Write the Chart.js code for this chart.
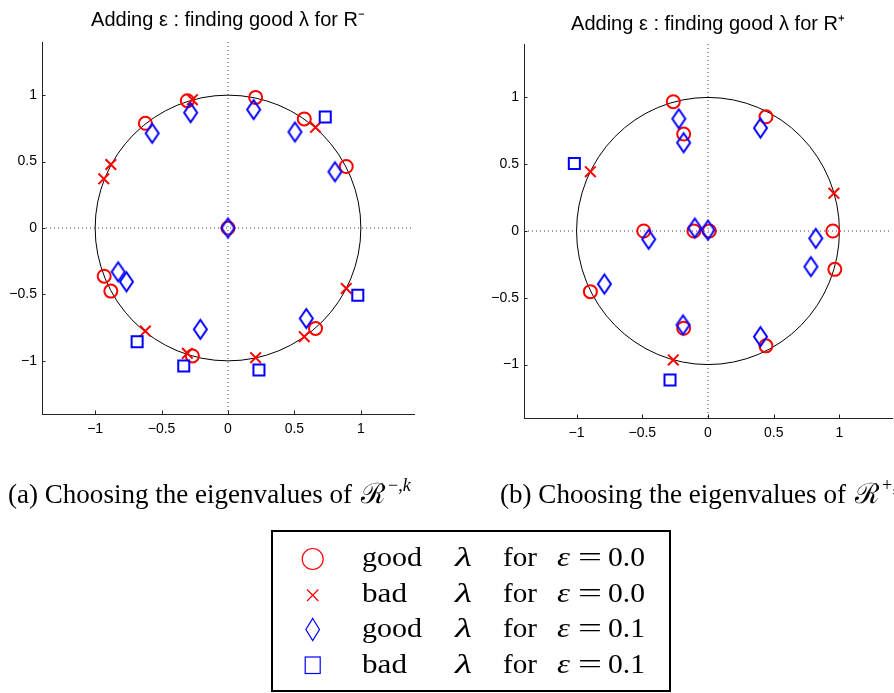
<!DOCTYPE html>
<html>
<head>
<meta charset="utf-8">
<script src="https://cdn.jsdelivr.net/npm/chart.js@4/dist/chart.umd.min.js"></script>
<style>
  html, body { margin: 0; padding: 0; background: #fff; }
  body { width: 894px; height: 693px; position: relative; overflow: hidden; }
  canvas { position: absolute; }
  #overlay { position: absolute; left: 0; top: 0; pointer-events: none; }
  .serif { font-family: "Liberation Serif", "DejaVu Serif", serif; }
</style>
</head>
<body>
<canvas id="chartMinus" width="440" height="460" style="left:0;top:0"></canvas>
<canvas id="chartPlus" width="420" height="464" style="left:482px;top:0"></canvas>

<svg id="overlay" width="894" height="693" xmlns="http://www.w3.org/2000/svg">
  <!-- sub-figure captions -->
  <g class="serif" fill="#000">
    <text x="8" y="503" font-size="27" textLength="344" lengthAdjust="spacingAndGlyphs">(a) Choosing the eigenvalues of</text>
    <text x="361" y="503" font-size="28" font-family="DejaVu Serif, serif">ℛ</text>
    <text x="388" y="491" font-size="18">−,<tspan font-style="italic">k</tspan></text>

    <text x="500" y="503" font-size="27" textLength="346" lengthAdjust="spacingAndGlyphs">(b) Choosing the eigenvalues of</text>
    <text x="855" y="503" font-size="28" font-family="DejaVu Serif, serif">ℛ</text>
    <text x="882" y="491" font-size="18">+,<tspan font-style="italic">k</tspan></text>
  </g>

  <!-- shared legend -->
  <rect x="272" y="531" width="398" height="160" fill="#fff" stroke="#000" stroke-width="2"/>
  <circle cx="312.7" cy="559" r="10.5" fill="none" stroke="#ff0000" stroke-width="1.2"/>
  <path d="M307 589.5 L318.4 601 M318.4 589.5 L307 601" stroke="#ff0000" stroke-width="1.2" fill="none"/>
  <path d="M312.7 618.5 L319.5 629.5 L312.7 640.5 L305.9 629.5 Z" stroke="#0000ff" stroke-width="1.2" fill="none"/>
  <rect x="305.2" y="657" width="15" height="16.5" stroke="#0000ff" stroke-width="1.2" fill="none"/>

  <g class="serif" font-size="28" fill="#000">
    <text x="362" y="566" textLength="60" lengthAdjust="spacingAndGlyphs">good</text>
    <text x="362" y="601.5" textLength="45" lengthAdjust="spacingAndGlyphs">bad</text>
    <text x="362" y="637" textLength="60" lengthAdjust="spacingAndGlyphs">good</text>
    <text x="362" y="672.5" textLength="45" lengthAdjust="spacingAndGlyphs">bad</text>

    <text x="455" y="566" font-style="italic" textLength="17" lengthAdjust="spacingAndGlyphs">λ</text>
    <text x="455" y="601.5" font-style="italic" textLength="17" lengthAdjust="spacingAndGlyphs">λ</text>
    <text x="455" y="637" font-style="italic" textLength="17" lengthAdjust="spacingAndGlyphs">λ</text>
    <text x="455" y="672.5" font-style="italic" textLength="17" lengthAdjust="spacingAndGlyphs">λ</text>

    <text x="503" y="566" textLength="34" lengthAdjust="spacingAndGlyphs">for</text>
    <text x="503" y="601.5" textLength="34" lengthAdjust="spacingAndGlyphs">for</text>
    <text x="503" y="637" textLength="34" lengthAdjust="spacingAndGlyphs">for</text>
    <text x="503" y="672.5" textLength="34" lengthAdjust="spacingAndGlyphs">for</text>

    <text x="557" y="566" font-style="italic" textLength="13" lengthAdjust="spacingAndGlyphs">ε</text>
    <text x="557" y="601.5" font-style="italic" textLength="13" lengthAdjust="spacingAndGlyphs">ε</text>
    <text x="557" y="637" font-style="italic" textLength="13" lengthAdjust="spacingAndGlyphs">ε</text>
    <text x="557" y="672.5" font-style="italic" textLength="13" lengthAdjust="spacingAndGlyphs">ε</text>

    <text x="578" y="566" textLength="24" lengthAdjust="spacingAndGlyphs">=</text>
    <text x="578" y="601.5" textLength="24" lengthAdjust="spacingAndGlyphs">=</text>
    <text x="578" y="637" textLength="24" lengthAdjust="spacingAndGlyphs">=</text>
    <text x="578" y="672.5" textLength="24" lengthAdjust="spacingAndGlyphs">=</text>

    <text x="608" y="566" textLength="37" lengthAdjust="spacingAndGlyphs">0.0</text>
    <text x="608" y="601.5" textLength="37" lengthAdjust="spacingAndGlyphs">0.0</text>
    <text x="608" y="637" textLength="37" lengthAdjust="spacingAndGlyphs">0.1</text>
    <text x="608" y="672.5" textLength="37" lengthAdjust="spacingAndGlyphs">0.1</text>
  </g>
</svg>

<script>
// ---- axis settings ----
const axisMin = -1.4;
const axisMax = 1.4;
const tickValues = [-1, -0.5, 0, 0.5, 1];

// ---- eigenvalues for R^-  ([real, imag]) ----
const minusGoodEps0 = [[-0.306, 0.958], [0.208, 0.983], [-0.622, 0.788], [0.574, 0.821], [0.890, 0.463],
                       [0, 0], [-0.932, -0.363], [-0.882, -0.475], [0.659, -0.756], [-0.268, -0.963]];
const minusBadEps0  = [[-0.268, 0.966], [0.659, 0.758], [-0.882, 0.478], [-0.935, 0.370], [0.890, -0.455],
                       [-0.622, -0.776], [0.574, -0.818], [-0.306, -0.943], [0.208, -0.976]];
const minusGoodEps1 = [[-0.281, 0.868], [0.193, 0.891], [-0.571, 0.713], [0.504, 0.723], [0.805, 0.423],
                       [0, 0], [-0.827, -0.330], [-0.764, -0.405], [-0.208, -0.763], [0.589, -0.681]];
const minusBadEps1  = [[0.732, 0.836], [0.977, -0.506], [-0.684, -0.856], [-0.333, -1.039], [0.233, -1.069]];

// ---- eigenvalues for R^+  ([real, imag]) ----
const plusGoodEps0 = [[-0.264, 0.968], [0.441, 0.855], [-0.185, 0.726], [-0.489, 0], [-0.107, 0], [0.010, 0],
                      [0.950, 0], [0.965, -0.287], [-0.895, -0.454], [-0.185, -0.728], [0.441, -0.860]];
const plusBadEps0  = [[-0.895, 0.444], [0.958, 0.282], [-0.264, -0.965]];
const plusGoodEps1 = [[-0.222, 0.840], [-0.185, 0.661], [0.399, 0.771], [-0.100, 0.022], [0, 0.007],
                      [-0.451, -0.062], [0.820, -0.055], [0.783, -0.267], [-0.788, -0.397], [-0.190, -0.703],
                      [0.399, -0.791]];
const plusBadEps1  = [[-1.017, 0.506], [-0.289, -1.115]];

const RED = '#ff0000';
const BLUE = '#0000ff';

// Tall open diamond used for the "good, eps = 0.1" markers
function diamondMarker(halfW, halfH, lineW, color) {
  const c = document.createElement('canvas');
  c.width = Math.ceil(2 * halfW + lineW + 4);
  c.height = Math.ceil(2 * halfH + lineW + 4);
  const g = c.getContext('2d');
  const cx = c.width / 2, cy = c.height / 2;
  g.strokeStyle = color;
  g.lineWidth = lineW;
  g.lineJoin = 'miter';
  g.beginPath();
  g.moveTo(cx, cy - halfH);
  g.lineTo(cx + halfW, cy);
  g.lineTo(cx, cy + halfH);
  g.lineTo(cx - halfW, cy);
  g.closePath();
  g.stroke();
  return c;
}
const diamond = diamondMarker(6.5, 9.5, 2, BLUE);

const toPoints = arr => arr.map(([x, y]) => ({ x, y }));

// Unit circle, dotted zero lines and inward tick marks
const guides = {
  id: 'guides',
  beforeDatasetsDraw(chart) {
    const { ctx, chartArea: a, scales: { x, y } } = chart;
    const x0 = x.getPixelForValue(0);
    const y0 = y.getPixelForValue(0);
    ctx.save();
    ctx.lineWidth = 1;
    ctx.strokeStyle = '#444';
    ctx.setLineDash([1, 3]);
    ctx.beginPath();
    ctx.moveTo(x0, a.top); ctx.lineTo(x0, a.bottom);
    ctx.moveTo(a.left, y0); ctx.lineTo(a.right, y0);
    ctx.stroke();
    ctx.setLineDash([]);

    ctx.strokeStyle = '#000';
    ctx.beginPath();
    ctx.ellipse(x0, y0, x.getPixelForValue(1) - x0, y0 - y.getPixelForValue(1), 0, 0, Math.PI * 2);
    ctx.stroke();

    ctx.strokeStyle = '#222';
    ctx.beginPath();
    x.ticks.forEach(t => {
      const px = Math.round(x.getPixelForValue(t.value)) + 0.5;
      ctx.moveTo(px, a.bottom); ctx.lineTo(px, a.bottom - 3.5);
    });
    y.ticks.forEach(t => {
      const py = Math.round(y.getPixelForValue(t.value)) + 0.5;
      ctx.moveTo(a.left, py); ctx.lineTo(a.left + 3.5, py);
    });
    ctx.stroke();
    ctx.restore();
  }
};

const fmt = v => (v < 0 ? '\u2212' + Math.abs(v) : String(v));

function makeChart(id, titleText, titlePad, yWidth, xHeight, padRight, sets) {
  const [good0, bad0, good1, bad1] = sets;
  return new Chart(document.getElementById(id), {
    type: 'scatter',
    data: {
      datasets: [
        { label: 'good λ for ε = 0.0', data: toPoints(good0), pointStyle: 'circle', pointRadius: 6.5,
          borderColor: RED, backgroundColor: 'transparent', borderWidth: 2, order: 4 },
        { label: 'bad λ for ε = 0.0', data: toPoints(bad0), pointStyle: 'crossRot', pointRadius: 7.5,
          borderColor: RED, backgroundColor: 'transparent', borderWidth: 2, order: 3 },
        { label: 'good λ for ε = 0.1', data: toPoints(good1), pointStyle: diamond, pointRadius: 8,
          borderColor: BLUE, backgroundColor: 'transparent', borderWidth: 2, order: 2 },
        { label: 'bad λ for ε = 0.1', data: toPoints(bad1), pointStyle: 'rect', pointRadius: 7.8,
          borderColor: BLUE, backgroundColor: 'transparent', borderWidth: 2, order: 1 }
      ]
    },
    options: {
      responsive: false,
      animation: false,
      events: [],
      layout: { padding: { left: 0, right: padRight, top: 0, bottom: 0 } },
      plugins: {
        legend: { display: false },
        tooltip: { enabled: false },
        title: {
          display: true,
          fullSize: false,
          text: titleText,
          color: '#000',
          font: { family: 'Liberation Sans, Arial, sans-serif', size: 20, weight: 'normal', lineHeight: 1.2 },
          padding: titlePad
        }
      },
      scales: {
        x: {
          type: 'linear',
          min: axisMin, max: axisMax,
          afterBuildTicks: s => { s.ticks = tickValues.map(v => ({ value: v })); },
          afterFit: s => { s.height = xHeight; },
          grid: { display: false, drawTicks: false },
          border: { display: true, color: '#222', width: 1 },
          ticks: { color: '#000', padding: 7, maxRotation: 0,
                   font: { family: 'Liberation Sans, Arial, sans-serif', size: 14 },
                   callback: v => fmt(v) }
        },
        y: {
          type: 'linear',
          min: axisMin, max: axisMax,
          afterBuildTicks: s => { s.ticks = tickValues.map(v => ({ value: v })); },
          afterFit: s => { s.width = yWidth; },
          grid: { display: false, drawTicks: false },
          border: { display: true, color: '#222', width: 1 },
          ticks: { color: '#000', padding: 5,
                   font: { family: 'Liberation Sans, Arial, sans-serif', size: 14 },
                   callback: v => fmt(v) }
        }
      }
    },
    plugins: [guides]
  });
}

makeChart('chartMinus', 'Adding ε : finding good λ for R\u207B', { top: 8.7, bottom: 9.3 }, 42, 46, 26,
  [minusGoodEps0, minusBadEps0, minusGoodEps1, minusBadEps1]);
makeChart('chartPlus', 'Adding ε : finding good λ for R\u207A', { top: 12, bottom: 8 }, 42, 46, 4,
  [plusGoodEps0, plusBadEps0, plusGoodEps1, plusBadEps1]);
</script>
</body>
</html>
